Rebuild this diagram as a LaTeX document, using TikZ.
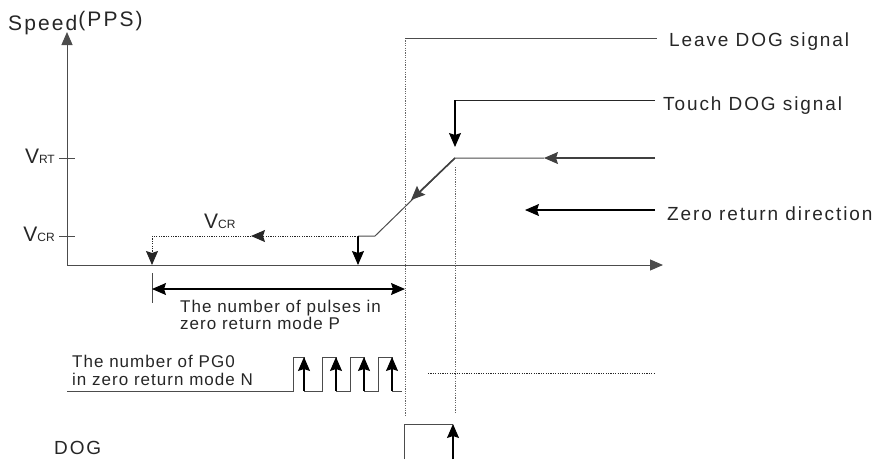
\documentclass[tikz,border=0pt]{standalone}
\usepackage{fontspec}
\setmainfont{Liberation Sans}
\usetikzlibrary{arrows.meta}

\begin{document}
\begin{tikzpicture}[x=1pt,y=-1pt,
  ln/.style={draw=black!70,line width=1pt},
  dotline/.style={draw=black!60,line width=1pt,dash pattern=on 1.2pt off 1.2pt},
  tip/.style={-{Stealth[length=14pt,width=12pt,inset=2pt]}},
  arr/.style={tip,draw=black,line width=1.1pt},
  lbl/.style={font=\fontsize{17}{20}\selectfont\addfontfeatures{LetterSpace=6},anchor=base west,inner sep=0pt,text=black!85},
  big/.style={font=\fontsize{19}{22}\selectfont\addfontfeatures{LetterSpace=10},anchor=base west,inner sep=0pt,text=black!85}]
  \useasboundingbox (0,0) rectangle (878,459);
  % y level of the axis, levels of V_RT and V_CR, pulse low/high
  \def\yA{265}\def\yRT{158}\def\yCR{236}\def\pL{391}\def\pH{357}
  % leave and touch dog positions
  \def\xL{405}\def\xT{455}
  % axes
  \coordinate (orig) at (67,\yA);
  \coordinate (ytop) at (67,32);
  \coordinate (xend) at (663,\yA);
  \draw[ln,-{Triangle[length=13pt,width=11pt]}] (orig)--(ytop);
  \draw[ln,-{Triangle[length=13pt,width=11pt]}] (orig)--(xend);
  \node[anchor=base west,inner sep=0pt,text=black!85,font=\fontsize{21}{22}\selectfont\addfontfeatures{LetterSpace=10}] (speed) at (8,30){Speed\hspace{1pt}\raisebox{4pt}{(PPS)}};
  % ticks + labels
  \coordinate (rtA) at (59,\yRT);\coordinate (rtB) at (75,\yRT);
  \coordinate (crA) at (59,\yCR);\coordinate (crB) at (75,\yCR);
  \draw[ln] (rtA)--(rtB);\draw[ln] (crA)--(crB);
  \node[anchor=base east,inner sep=0pt,text=black!85] (vrt) at (55,163){\fontsize{21}{22}\selectfont V\fontsize{12}{13}\selectfont RT};
  \node[anchor=base east,inner sep=0pt,text=black!85] (vcr) at (55,241){\fontsize{21}{22}\selectfont V\fontsize{12}{13}\selectfont CR};
  % leave DOG signal
  \coordinate (lvTop) at (\xL,38);\coordinate (lvBot) at (\xL,415);\coordinate (lvEnd) at (657,38);
  \draw[dotline] (lvTop)--(lvBot);
  \draw[ln] (lvTop)--(lvEnd);
  \node[big] (leave) at (669,46){Leave DOG signal};
  % touch DOG signal
  \coordinate (tcEnd) at (655,100);\coordinate (tcCor) at (\xT,100);\coordinate (tcTip) at (\xT,147);
  \draw[ln,draw=black!85] (tcEnd)--(tcCor);
  \draw[arr] (tcCor)--(tcTip);
  \coordinate (tcTop) at (\xT,167);\coordinate (tcBot) at (\xT,413);
  \draw[dotline] (tcTop)--(tcBot);
  \node[big] (touch) at (663,110){Touch DOG signal};
  % speed profile: V_RT run, slow down, V_CR run
  \coordinate (rtEnd) at (655,\yRT);\coordinate (rtMid) at (544,\yRT);\coordinate (rtCor) at (\xT,\yRT);
  \coordinate (slTip) at (411,200);\coordinate (crCor) at (375,\yCR);\coordinate (crDn) at (358,\yCR);
  \coordinate (crDnTip) at (358,\yA);
  \draw[arr,draw=black!75] (rtEnd)--(rtMid);
  \draw[ln] (rtMid)--(rtCor)--(crCor)--(crDn);
  \draw[arr,line width=1.6pt,draw=black!75] (rtCor)--(slTip);
  \draw[arr] (crDn)--(crDnTip);
  \coordinate (crMid) at (251,\yCR);\coordinate (crLeft) at (152,\yCR);\coordinate (crLeftTip) at (152,\yA);
  \draw[dotline,draw=black!85,tip] (crDn)--(crMid);
  \draw[dotline,draw=black!85] (crMid)--(crLeft);
  \draw[dotline,draw=black!85,tip] (crLeft)--(crLeftTip);
  \node[anchor=base west,inner sep=0pt,text=black!85] (vcrMid) at (204,228){\fontsize{21}{22}\selectfont V\fontsize{12}{13}\selectfont CR};
  % zero return direction
  \coordinate (zrEnd) at (655,210);\coordinate (zrTip) at (525,210);
  \draw[arr] (zrEnd)--(zrTip);
  \node[big] (zero) at (667,220){Zero return direction};
  % number of pulses P
  \coordinate (dmTop) at (152,273);\coordinate (dmBot) at (152,303);
  \coordinate (dmL) at (152,289);\coordinate (dmR) at (\xL,289);
  \draw[ln] (dmTop)--(dmBot);
  \draw[arr,{Stealth[length=14pt,width=12pt,inset=2pt]}-{Stealth[length=14pt,width=12pt,inset=2pt]}] (dmL)--(dmR);
  \node[lbl] (nP1) at (180,312){The number of pulses in};
  \node[lbl] (nP2) at (180,329){zero return mode P};
  % PG0 pulses N
  \node[lbl] (nN1) at (72,367){The number of PG0};
  \node[lbl] (nN2) at (72,385){in zero return mode N};
  \draw[ln] (67,\pL)--(293,\pL)--(293,\pH)--(304,\pH)--(304,\pL)--(322,\pL)--(322,\pH)--(336,\pH)--(336,\pL)
    --(350,\pL)--(350,\pH)--(364,\pH)--(364,\pL)--(378,\pL)--(378,\pH)--(392,\pH)--(392,\pL)--(402,\pL);
  \foreach \f in {304,336,364,392}{
    \draw[arr] (\f,\pL)--(\f,\pH);}
  \coordinate (pgA) at (428,373);\coordinate (pgB) at (655,373);
  \draw[dotline,draw=black!85] (pgA)--(pgB);
  % DOG
  \node[anchor=base west,inner sep=0pt,text=black!85,font=\fontsize{19}{22}\selectfont\addfontfeatures{LetterSpace=10}] (dog) at (54,454){DOG};
  \coordinate (dgA) at (404,459);\coordinate (dgB) at (404,424);\coordinate (dgC) at (453,424);\coordinate (dgD) at (453,459);
  \draw[ln] (dgA)--(dgB)--(dgC);
  \draw[arr] (dgD)--(dgC);
\end{tikzpicture}
\end{document}
